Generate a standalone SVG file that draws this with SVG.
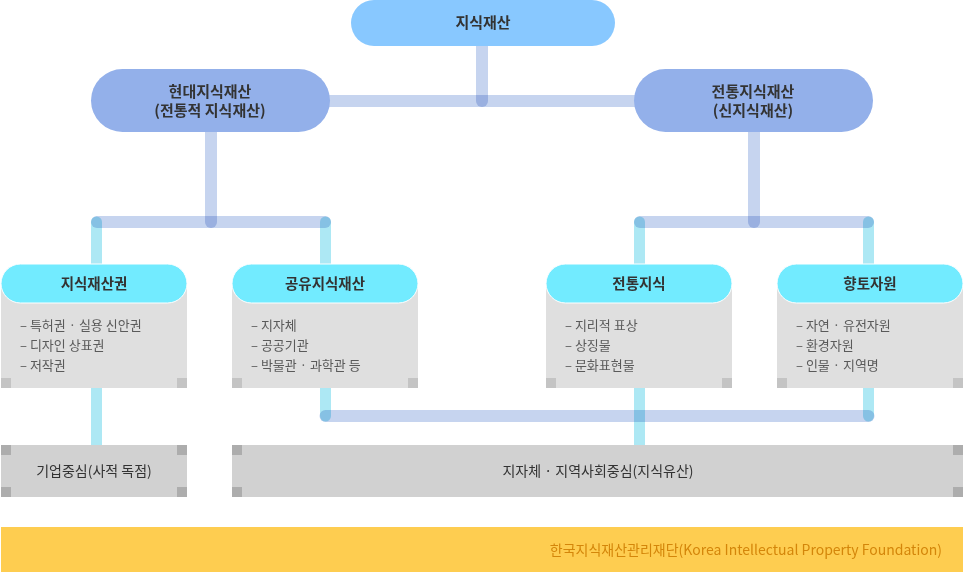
<svg xmlns="http://www.w3.org/2000/svg" width="964" height="572" viewBox="0 0 964 572">
<style>
text{font-family:"Noto Sans CJK KR","Noto Sans",sans-serif}
.t{font-size:15px;font-weight:bold;fill:#333;text-anchor:middle}
.h{font-size:14.5px;font-weight:bold;fill:#333;text-anchor:middle}
.i{font-size:13px;fill:#5a5a5a}
.b{font-size:14px;fill:#333;text-anchor:middle}
.c{fill:none;stroke-width:12;mix-blend-mode:multiply}
.blue{stroke:#C6D4EF}
.cyan{stroke:#ADE8F4;stroke-width:11}
.hd{fill:#72EBFF;stroke:#fff;stroke-width:1}
.bd{fill:#DFDFDF}
.cs{fill:#C4C4C4}
.bx{fill:#D1D1D1}
.bc{fill:#ADADAD}
</style>
<rect width="964" height="572" fill="#fff"/>
<g id="connectors">
<line class="c blue" x1="310" y1="101" x2="654" y2="101"/>
<line class="c blue" x1="482" y1="40" x2="482" y2="101" stroke-linecap="round"/>
<line class="c blue" x1="211" y1="125" x2="211" y2="222" stroke-linecap="round"/>
<line class="c blue" x1="754" y1="125" x2="754" y2="222" stroke-linecap="round"/>
<line class="c blue" x1="97" y1="222" x2="325" y2="222" stroke-linecap="round"/>
<line class="c blue" x1="640" y1="222" x2="868" y2="222" stroke-linecap="round"/>
<line class="c cyan" x1="96.5" y1="222" x2="96.5" y2="270" stroke-linecap="round"/>
<line class="c cyan" x1="325.5" y1="222" x2="325.5" y2="270" stroke-linecap="round"/>
<line class="c cyan" x1="639.5" y1="222" x2="639.5" y2="270" stroke-linecap="round"/>
<line class="c cyan" x1="868.5" y1="222" x2="868.5" y2="270" stroke-linecap="round"/>
<line class="c blue" x1="325.5" y1="416" x2="868.5" y2="416" stroke-linecap="round"/>
<line class="c cyan" x1="96.5" y1="385" x2="96.5" y2="446"/>
<line class="c cyan" x1="325.5" y1="385" x2="325.5" y2="416" stroke-linecap="round"/>
<line class="c cyan" x1="639.5" y1="385" x2="639.5" y2="446"/>
<line class="c cyan" x1="868.5" y1="385" x2="868.5" y2="416" stroke-linecap="round"/>
</g>
<g id="root">
<rect x="351" y="0" width="264" height="46" rx="23" fill="#88C8FF"/>
<text class="t" x="483" y="28">지식재산</text>
</g>
<g id="modern">
<rect x="91" y="69" width="239" height="63" rx="31.5" fill="#93B0EA"/>
<text class="t" x="210" y="97">현대지식재산</text>
<text class="t" x="210" y="116">(전통적 지식재산)</text>
</g>
<g id="traditional">
<rect x="634" y="69" width="239" height="63" rx="31.5" fill="#93B0EA"/>
<text class="t" x="753" y="97">전통지식재산</text>
<text class="t" x="753" y="116">(신지식재산)</text>
</g>
<g id="card1">
<rect class="bd" x="1" y="284" width="186" height="104"/>
<rect class="cs" x="1" y="378" width="10" height="10"/>
<rect class="cs" x="177" y="378" width="10" height="10"/>
<rect class="hd" x="1" y="264" width="186" height="39" rx="19.5"/>
<text class="h" x="94" y="289">지식재산권</text>
<text class="i" x="20" y="330">– 특허권 · 실용 신안권</text>
<text class="i" x="20" y="350">– 디자인 상표권</text>
<text class="i" x="20" y="370">– 저작권</text>
</g>
<g id="card2">
<rect class="bd" x="232" y="284" width="186" height="104"/>
<rect class="cs" x="232" y="378" width="10" height="10"/>
<rect class="cs" x="408" y="378" width="10" height="10"/>
<rect class="hd" x="232" y="264" width="186" height="39" rx="19.5"/>
<text class="h" x="325" y="289">공유지식재산</text>
<text class="i" x="251" y="330">– 지자체</text>
<text class="i" x="251" y="350">– 공공기관</text>
<text class="i" x="251" y="370">– 박물관 · 과학관 등</text>
</g>
<g id="card3">
<rect class="bd" x="546" y="284" width="186" height="104"/>
<rect class="cs" x="546" y="378" width="10" height="10"/>
<rect class="cs" x="722" y="378" width="10" height="10"/>
<rect class="hd" x="546" y="264" width="186" height="39" rx="19.5"/>
<text class="h" x="639" y="289">전통지식</text>
<text class="i" x="565" y="330">– 지리적 표상</text>
<text class="i" x="565" y="350">– 상징물</text>
<text class="i" x="565" y="370">– 문화표현물</text>
</g>
<g id="card4">
<rect class="bd" x="777" y="284" width="186" height="104"/>
<rect class="cs" x="777" y="378" width="10" height="10"/>
<rect class="cs" x="953" y="378" width="10" height="10"/>
<rect class="hd" x="777" y="264" width="186" height="39" rx="19.5"/>
<text class="h" x="870" y="289">향토자원</text>
<text class="i" x="796" y="330">– 자연 · 유전자원</text>
<text class="i" x="796" y="350">– 환경자원</text>
<text class="i" x="796" y="370">– 인물 · 지역명</text>
</g>
<g id="box1">
<rect class="bx" x="1" y="445" width="186" height="52"/>
<rect class="bc" x="1" y="445" width="10" height="10"/>
<rect class="bc" x="177" y="445" width="10" height="10"/>
<rect class="bc" x="1" y="487" width="10" height="10"/>
<rect class="bc" x="177" y="487" width="10" height="10"/>
<text class="b" x="94" y="476">기업중심(사적 독점)</text>
</g>
<g id="box2">
<rect class="bx" x="232" y="445" width="731" height="52"/>
<rect class="bc" x="232" y="445" width="10" height="10"/>
<rect class="bc" x="953" y="445" width="10" height="10"/>
<rect class="bc" x="232" y="487" width="10" height="10"/>
<rect class="bc" x="953" y="487" width="10" height="10"/>
<text class="b" x="598" y="476">지자체 · 지역사회중심(지식유산)</text>
</g>
<g id="footer">
<rect x="1" y="527" width="962" height="45" fill="#FECD50"/>
<text x="942" y="555" font-size="14" fill="#D4860A" text-anchor="end">한국지식재산관리재단(Korea Intellectual Property Foundation)</text>
</g>
</svg>
